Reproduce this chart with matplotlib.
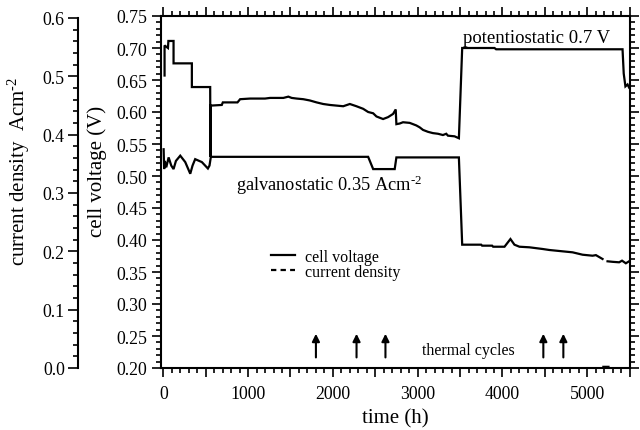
import numpy as np
import matplotlib
matplotlib.use('Agg')
import matplotlib.pyplot as plt
from matplotlib.lines import Line2D
from matplotlib.ticker import MultipleLocator, FuncFormatter, FormatStrFormatter

plt.rcParams['font.family'] = ['Liberation Serif', 'DejaVu Serif']
plt.rcParams['mathtext.fontset'] = 'custom'
plt.rcParams['mathtext.rm'] = 'Liberation Serif'
plt.rcParams['mathtext.it'] = 'Liberation Serif:italic'

# ---- data ----
volt_t = [15, 15, 55, 60, 121, 121, 337, 337, 553, 556, 560, 690, 702, 875, 906,
          1024, 1200, 1259, 1416, 1475, 1514, 1573, 1651, 1729, 1808, 1886, 1965,
          2043, 2122, 2200, 2278, 2357, 2416, 2475, 2514, 2592, 2651, 2710, 2741,
          2749, 2788, 2827, 2906, 2945, 2984, 3024, 3063, 3122, 3180, 3239, 3298,
          3337, 3357, 3435, 3486, 3525, 3906, 3925, 5416, 5430, 5440, 5450, 5475, 5494]
volt_v = [0.657, 0.704, 0.700, 0.711, 0.711, 0.676, 0.676, 0.639, 0.639, 0.530,
          0.610, 0.611, 0.615, 0.615, 0.620, 0.621, 0.621, 0.622, 0.622, 0.624,
          0.622, 0.621, 0.620, 0.618, 0.615, 0.6125, 0.611, 0.610, 0.609, 0.6125,
          0.609, 0.605, 0.600, 0.598, 0.593, 0.589, 0.592, 0.597, 0.604, 0.581,
          0.582, 0.584, 0.583, 0.581, 0.579, 0.576, 0.572, 0.569, 0.567, 0.566,
          0.564, 0.566, 0.563, 0.562, 0.559, 0.700, 0.700, 0.698, 0.698, 0.660,
          0.650, 0.640, 0.643, 0.638]

cur_t = [4, 10, 17, 35, 63, 94, 121, 149, 200, 259, 318, 345, 376, 455, 526, 545,
         561, 2416, 2475, 2729, 2749, 3486, 3525, 3749, 3760, 3878, 3890, 4024,
         4094, 4141, 4200, 4318, 4474, 4553, 4710, 4827, 4945, 5063, 5102, 5180,
         5181, 5190, 5250, 5251, 5239, 5300, 5376, 5410, 5455, 5494]
cur_j = [0.375, 0.341, 0.355, 0.344, 0.361, 0.347, 0.341, 0.355, 0.364, 0.353,
         0.333, 0.347, 0.358, 0.353, 0.342, 0.347, 0.362, 0.362, 0.341, 0.341,
         0.361, 0.361, 0.2114, 0.2114, 0.2097, 0.2097, 0.2079, 0.2079, 0.2211,
         0.2114, 0.2079, 0.2069, 0.204, 0.2023, 0.200, 0.1983, 0.1942, 0.1925,
         0.1935, 0.1869, np.nan, 0.002, 0.002, np.nan, 0.1829, 0.1820, 0.1812,
         0.1840, 0.1795, 0.1830]

thermal_cycles = [1800, 2279, 2620, 4482, 4718]

# ---- figure ----
W, H = 640, 431
fig = plt.figure(figsize=(W / 100, H / 100), dpi=100)
L, R, T, B = 161, 630, 17, 369
ax = fig.add_axes([L / W, 1 - B / H, (R - L) / W, (B - T) / H])
ax.set_xlim(-27, 5504)
ax.set_ylim(0.20, 0.75)

ax2 = ax.twinx()
ax2.set_ylim(0, 0.6 * 352 / 350)

lw = 1.6
ax.plot(volt_t, volt_v, color='black', lw=lw, solid_joinstyle='miter')
ax2.plot(cur_t, cur_j, color='black', lw=lw, solid_joinstyle='miter')

# ticks for main axes
ax.xaxis.set_major_locator(MultipleLocator(500))
ax.xaxis.set_minor_locator(MultipleLocator(100))
ax.xaxis.set_major_formatter(FuncFormatter(
    lambda v, p: f"{int(round(v))}" if int(round(v)) % 1000 == 0 else ""))
ax.yaxis.set_major_locator(MultipleLocator(0.05))
ax.yaxis.set_minor_locator(MultipleLocator(0.01))
ax.yaxis.set_major_formatter(FormatStrFormatter('%.2f'))
ax.tick_params(which='both', direction='out', top=True, right=True,
               bottom=True, left=True, labelsize=12.8, width=1.2, color='black')
ax.tick_params(which='major', length=6.5)
ax.tick_params(which='minor', length=3.5)
ax.tick_params(axis='x', which='major', pad=5.5)
ax.tick_params(axis='y', which='major', pad=3.5)
for s in ax.spines.values():
    s.set_linewidth(1.5)

# current density axis on the far left
for name in ['right', 'top', 'bottom']:
    ax2.spines[name].set_visible(False)
ax2.spines['left'].set_visible(True)
ax2.spines['left'].set_position(('axes', -(L - 78) / (R - L)))
ax2.spines['left'].set_bounds(0, 0.6)
ax2.spines['left'].set_linewidth(1.5)
ax2.yaxis.set_ticks_position('left')
ax2.yaxis.set_label_position('left')
ax2.yaxis.set_major_locator(MultipleLocator(0.1))
ax2.yaxis.set_minor_locator(MultipleLocator(0.02))
ax2.yaxis.set_major_formatter(FormatStrFormatter('%.1f'))
ax2.tick_params(which='both', direction='out', labelsize=12.8, width=1.2)
ax2.tick_params(which='major', length=7, pad=2.5)
ax2.tick_params(which='minor', length=3.5)

# labels
ax.set_xlabel('time (h)', fontsize=15)
ax.xaxis.set_label_coords(0.5, -(409 - B) / (B - T))
ax.set_ylabel('cell voltage (V)', fontsize=15)
ax.yaxis.set_label_coords(-(L - 107) / (R - L), (B - 171) / (B - T))
ax2.set_ylabel(r'current density  Acm$^{\text{-}2}$', fontsize=15)
ax2.yaxis.set_label_coords(-(L - 32) / (R - L), (B - 171) / (B - T))

# annotations
ax.text(859, 0.4875, r'galvanostatic 0.35 Acm$^{\text{-}2}$', fontsize=13.2,
        ha='left', va='center')
ax.text(3533, 0.7167, 'potentiostatic 0.7 V', fontsize=13.5,
        ha='left', va='center')
ax.text(3598, 0.2286, 'thermal cycles', fontsize=11.5, ha='center', va='center')
for tc in thermal_cycles:
    ax.annotate('', xy=(tc, 0.2535), xytext=(tc, 0.2165),
                arrowprops=dict(arrowstyle='-|>', color='black', lw=1.5,
                                mutation_scale=11, shrinkA=0, shrinkB=0))

handles = [Line2D([], [], color='black', lw=lw, ls='-'),
           Line2D([], [], color='black', lw=lw, ls=(0, (2.4, 1.9)))]
ax.legend(handles, ['cell voltage', 'current density'], frameon=False,
          fontsize=11.5, loc='upper left',
          bbox_to_anchor=((271 - L) / (R - L), (B - 250) / (B - T)),
          borderpad=0, borderaxespad=0, handlelength=1.5, handletextpad=0.6,
          labelspacing=-0.08)

fig.savefig('out.png', dpi=100)
